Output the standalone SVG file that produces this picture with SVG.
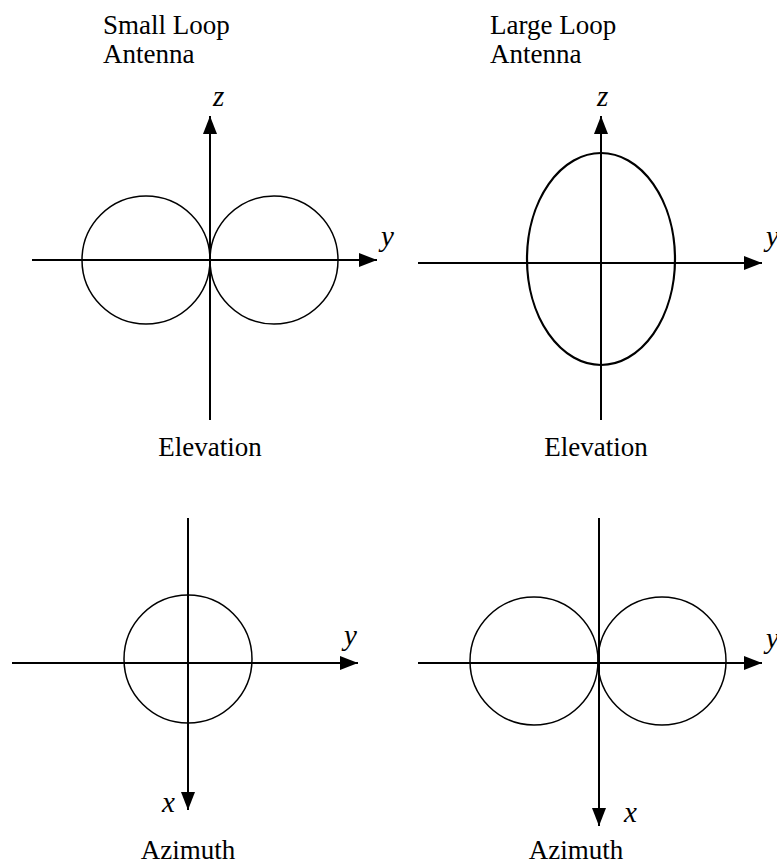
<svg xmlns="http://www.w3.org/2000/svg" width="777" height="863" viewBox="0 0 777 863">
<defs>
<marker id="ah" viewBox="0 0 18 14" refX="18" refY="7" markerWidth="18" markerHeight="14" markerUnits="userSpaceOnUse" orient="auto">
<path d="M0,0 L18,7 L0,14 Z" fill="#000"/>
</marker>
</defs>
<style>
.ax{stroke:#000;stroke-width:2;fill:none}
.pat{stroke:#000;stroke-width:1.5;fill:none}
.pat2{stroke:#000;stroke-width:2.2;fill:none}
.t{font-family:"Liberation Serif","Times New Roman",serif;font-size:27px;fill:#000}
.v{font-family:"Liberation Serif","Times New Roman",serif;font-size:29px;font-style:italic;fill:#000}
</style>
<rect width="777" height="863" fill="#fff"/>
<g id="titles">
<text class="t" x="103" y="34">Small Loop</text>
<text class="t" x="103" y="63">Antenna</text>
<text class="t" x="490" y="34">Large Loop</text>
<text class="t" x="490" y="63">Antenna</text>
</g>
<g id="small-elevation">
<circle class="pat" cx="146" cy="260" r="64"/>
<text class="v" x="213" y="106">z</text>
<text class="v" x="381" y="246">y</text>
<text class="t" x="210" y="456" text-anchor="middle">Elevation</text>
<circle class="pat" cx="274" cy="260" r="64"/>
</g>
<g id="large-elevation">
<ellipse class="pat2" cx="601" cy="259" rx="74" ry="106"/>
<text class="v" x="597" y="106">z</text>
<text class="v" x="766" y="246">y</text>
<text class="t" x="596" y="456" text-anchor="middle">Elevation</text>
</g>
<g id="small-azimuth">
<circle class="pat" cx="188" cy="659" r="64"/>
<text class="v" x="344" y="645">y</text>
<text class="v" x="162" y="812">x</text>
<text class="t" x="188" y="859" text-anchor="middle">Azimuth</text>
</g>
<g id="large-azimuth">
<circle class="pat" cx="534" cy="661" r="64"/>
<circle class="pat" cx="662" cy="661" r="64"/>
<text class="v" x="766" y="648">y</text>
<text class="v" x="624" y="822">x</text>
<text class="t" x="576" y="859" text-anchor="middle">Azimuth</text>
</g>
<g id="connectors">
<line class="ax" x1="210" y1="420" x2="210" y2="116" marker-end="url(#ah)"/>
<line class="ax" x1="32" y1="260" x2="377" y2="260" marker-end="url(#ah)"/>
<line class="ax" x1="601" y1="420" x2="601" y2="116" marker-end="url(#ah)"/>
<line class="ax" x1="418" y1="263" x2="762" y2="263" marker-end="url(#ah)"/>
<line class="ax" x1="188" y1="518" x2="188" y2="810" marker-end="url(#ah)"/>
<line class="ax" x1="12" y1="663" x2="358" y2="663" marker-end="url(#ah)"/>
<line class="ax" x1="599" y1="518" x2="599" y2="826" marker-end="url(#ah)"/>
<line class="ax" x1="418" y1="663" x2="762" y2="663" marker-end="url(#ah)"/>
</g>
</svg>
